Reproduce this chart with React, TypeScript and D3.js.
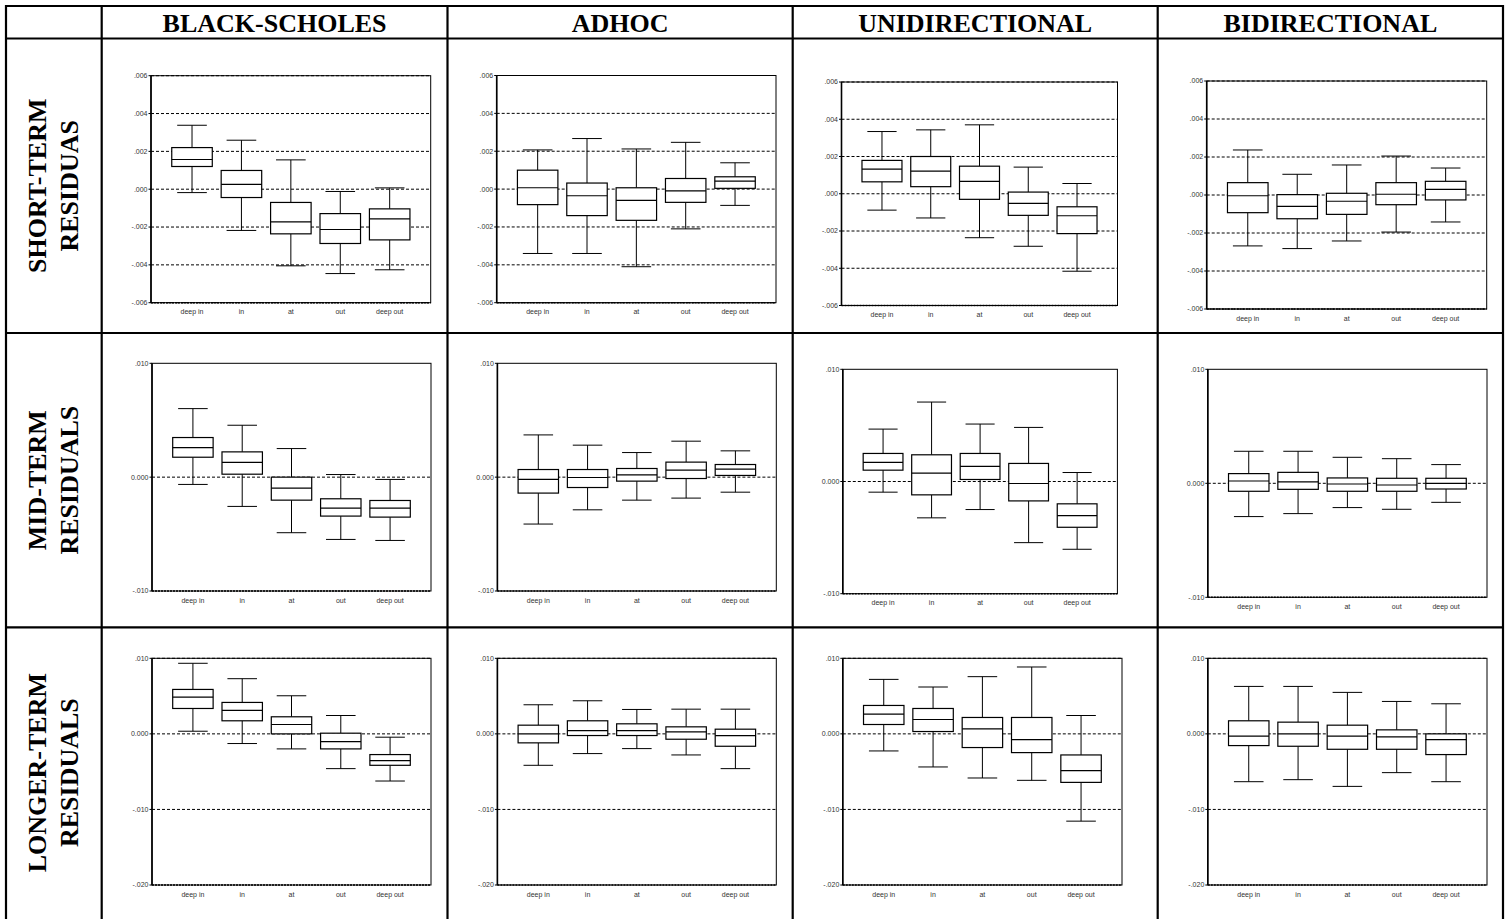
import React from "react";
import * as d3 from "d3";

// ---- labels ----
const MODELS = ["BLACK-SCHOLES", "ADHOC", "UNIDIRECTIONAL", "BIDIRECTIONAL"];
const HORIZONS = [
  ["SHORT-TERM", "RESIDUAS"],
  ["MID-TERM", "RESIDUALS"],
  ["LONGER-TERM", "RESIDUALS"],
];
const CATEGORIES = ["deep in", "in", "at", "out", "deep out"];

// ---- y axes per horizon ----
const SHORT_DOMAIN = [-0.006, 0.006];
const SHORT_TICKS = [0.006, 0.004, 0.002, 0, -0.002, -0.004, -0.006];
const SHORT_TICK_LABELS = [".006", ".004", ".002", ".000", "-.002", "-.004", "-.006"];
const SHORT_GRID = [0.006, 0.004, 0.002, 0, -0.002, -0.004, -0.006];

const MID_DOMAIN = [-0.01, 0.01];
const MID_TICKS = [0.01, 0, -0.01];
const MID_TICK_LABELS = [".010", "0.000", "-.010"];
const MID_GRID = [0];

const LONG_DOMAIN = [-0.02, 0.01];
const LONG_TICKS = [0.01, 0, -0.01, -0.02];
const LONG_TICK_LABELS = [".010", "0.000", "-.010", "-.020"];
const LONG_GRID = [0.01, 0, -0.01];

// ---- box statistics: [lower whisker, Q1, median, Q3, upper whisker] ----
const SHORT_BLACK_SCHOLES = [
  [-0.00018, 0.0012, 0.00157, 0.0022, 0.00338],
  [-0.00218, -0.00044, 0.00026, 0.00099, 0.00259],
  [-0.00405, -0.00236, -0.00173, -0.0007, 0.00155],
  [-0.00446, -0.00287, -0.00213, -0.00129, -0.00012],
  [-0.00426, -0.00268, -0.00157, -0.00104, 0.00007],
];
const SHORT_ADHOC = [
  [-0.0034, -0.00082, 0.00007, 0.001, 0.00207],
  [-0.0034, -0.0014, -0.00035, 0.00032, 0.00267],
  [-0.0041, -0.00165, -0.0006, 0.00007, 0.00212],
  [-0.0021, -0.0007, -0.00009, 0.00056, 0.00247],
  [-0.00086, 0.00004, 0.00042, 0.00065, 0.00139],
];
const SHORT_UNIDIRECTIONAL = [
  [-0.00088, 0.00064, 0.00132, 0.00179, 0.00334],
  [-0.0013, 0.00038, 0.00121, 0.002, 0.00343],
  [-0.00236, -0.0003, 0.00066, 0.00148, 0.0037],
  [-0.00282, -0.00116, -0.00052, 0.00009, 0.00143],
  [-0.00416, -0.00214, -0.00118, -0.0007, 0.00055],
];
const SHORT_BIDIRECTIONAL = [
  [-0.00268, -0.00093, -0.00004, 0.00065, 0.00237],
  [-0.00282, -0.00125, -0.0006, 0.00002, 0.00109],
  [-0.00242, -0.00102, -0.00033, 0.00009, 0.00158],
  [-0.00195, -0.00051, 0.00004, 0.00065, 0.00205],
  [-0.00142, -0.00026, 0.0003, 0.00072, 0.00142],
];

const MID_BLACK_SCHOLES = [
  [-0.00064, 0.00175, 0.0026, 0.00348, 0.00602],
  [-0.00257, 0.00026, 0.00129, 0.00222, 0.00456],
  [-0.00488, -0.00202, -0.00096, 0.0, 0.00251],
  [-0.00547, -0.00342, -0.00272, -0.0019, 0.00023],
  [-0.00556, -0.00351, -0.00272, -0.00205, -0.0002],
];
const MID_ADHOC = [
  [-0.00412, -0.0014, -0.0002, 0.00067, 0.00371],
  [-0.00287, -0.00091, -0.00003, 0.00067, 0.00281],
  [-0.00202, -0.00035, 0.0002, 0.00076, 0.00216],
  [-0.00184, -0.00012, 0.00061, 0.00132, 0.00316],
  [-0.00132, 0.00015, 0.0007, 0.00111, 0.00231],
];
const MID_UNIDIRECTIONAL = [
  [-0.00095, 0.00101, 0.0017, 0.0025, 0.00467],
  [-0.00324, -0.00119, 0.00074, 0.00238, 0.00708],
  [-0.0025, 0.00018, 0.00134, 0.0025, 0.00512],
  [-0.00545, -0.00173, -0.00018, 0.00161, 0.00482],
  [-0.00604, -0.00408, -0.00304, -0.00199, 0.0008],
];
const MID_BIDIRECTIONAL = [
  [-0.00292, -0.0007, 0.0002, 0.00085, 0.00281],
  [-0.00266, -0.00053, 0.00012, 0.00096, 0.00281],
  [-0.00213, -0.0007, -0.00006, 0.00047, 0.00228],
  [-0.00228, -0.0007, -0.00015, 0.00044, 0.00216],
  [-0.00167, -0.0005, 0.0, 0.00044, 0.00164],
];

const LONG_BLACK_SCHOLES = [
  [0.00035, 0.00336, 0.00487, 0.00588, 0.00934],
  [-0.00128, 0.00173, 0.0031, 0.00416, 0.0073],
  [-0.00199, 0.0, 0.00124, 0.00226, 0.00504],
  [-0.0046, -0.00199, -0.00102, 0.00009, 0.00243],
  [-0.00624, -0.00416, -0.00354, -0.00274, -0.00044],
];
const LONG_ADHOC = [
  [-0.00416, -0.00119, 0.0, 0.00115, 0.00385],
  [-0.00261, -0.00022, 0.00044, 0.00173, 0.00438],
  [-0.00195, -0.00022, 0.00044, 0.00133, 0.00323],
  [-0.00279, -0.00071, 0.00027, 0.00093, 0.00327],
  [-0.0046, -0.00164, -0.00022, 0.00062, 0.00327],
];
const LONG_UNIDIRECTIONAL = [
  [-0.00226, 0.00124, 0.00261, 0.00376, 0.00721],
  [-0.00438, 0.00031, 0.0019, 0.00336, 0.0062],
  [-0.00584, -0.00181, 0.00066, 0.00217, 0.00757],
  [-0.00615, -0.00248, -0.00075, 0.00217, 0.00885],
  [-0.01155, -0.00642, -0.00487, -0.00279, 0.00243],
];
const LONG_BIDIRECTIONAL = [
  [-0.00633, -0.00155, -0.00031, 0.00173, 0.00628],
  [-0.00606, -0.00164, 0.0, 0.00155, 0.00628],
  [-0.00695, -0.00204, -0.00031, 0.00115, 0.00549],
  [-0.00513, -0.00204, -0.0004, 0.00053, 0.00429],
  [-0.00633, -0.00274, -0.00075, 0.0, 0.00398],
];

// ---- page layout ----
const W = 1510;
const H = 919;
const TABLE_LEFT = 6;
const TABLE_RIGHT = 1503;
const TABLE_TOP = 6;
const HEADER_BOTTOM = 38.5;
const COL_EDGES = [101.7, 447.5, 792.7, 1157.7];
const ROW_EDGES = [333, 627.3];

// plot frames [x0, y0, x1, y1] for each row / column
const FRAMES = [
  [[151, 75.7, 430.7, 302.7], [496.7, 75.5, 776, 302.7], [841.5, 82, 1117.5, 305.5], [1206.7, 81, 1486.7, 309]],
  [[152, 363.3, 431, 591], [497.4, 363.3, 776.3, 591], [842.8, 369.3, 1117.4, 593.7], [1207.8, 369.3, 1487, 597.3]],
  [[152, 658.3, 431, 885], [497.4, 658.3, 776.3, 885], [842.8, 658.3, 1122, 885], [1207.8, 658.3, 1487, 885]],
];

const ROWS = [
  {
    domain: SHORT_DOMAIN, ticks: SHORT_TICKS, tickLabels: SHORT_TICK_LABELS, grid: SHORT_GRID,
    panels: [SHORT_BLACK_SCHOLES, SHORT_ADHOC, SHORT_UNIDIRECTIONAL, SHORT_BIDIRECTIONAL],
  },
  {
    domain: MID_DOMAIN, ticks: MID_TICKS, tickLabels: MID_TICK_LABELS, grid: MID_GRID,
    panels: [MID_BLACK_SCHOLES, MID_ADHOC, MID_UNIDIRECTIONAL, MID_BIDIRECTIONAL],
  },
  {
    domain: LONG_DOMAIN, ticks: LONG_TICKS, tickLabels: LONG_TICK_LABELS, grid: LONG_GRID,
    panels: [LONG_BLACK_SCHOLES, LONG_ADHOC, LONG_UNIDIRECTIONAL, LONG_BIDIRECTIONAL],
  },
];

const SANS = "'Liberation Sans', Arial, sans-serif";
const SERIF = "'Liberation Serif', 'Times New Roman', serif";

function BoxPanel({ frame, row, stats }) {
  const [x0, y0, x1, y1] = frame;
  const y = d3.scaleLinear().domain(row.domain).range([y1, y0]);
  const x = d3.scalePoint().domain(CATEGORIES).range([x0, x1]).padding(0.83);
  const step = x.step();
  const boxW = step * 0.82;
  const capW = step * 0.6;
  return (
    <g>
      <rect x={x0} y={y0} width={x1 - x0} height={y1 - y0} fill="#fff" stroke="#000" strokeWidth={1} />
      {row.grid.map((v) => (
        <line key={"g" + v} x1={x0} x2={x1} y1={y(v)} y2={y(v)} stroke="#000" strokeWidth={1} strokeDasharray="3,2" />
      ))}
      <line x1={x0} x2={x0} y1={y0} y2={y1} stroke="#000" strokeWidth={1.6} />
      <line x1={x0} x2={x1} y1={y1} y2={y1} stroke="#000" strokeWidth={1.6} strokeDasharray="2,1" />
      {row.ticks.map((v, i) => (
        <g key={"t" + v}>
          <line x1={x0 - 2.5} x2={x0} y1={y(v)} y2={y(v)} stroke="#000" strokeWidth={1} />
          <text x={x0 - 3.5} y={y(v)} dy="0.35em" textAnchor="end" fontFamily={SANS} fontSize={7} fill="#333">
            {row.tickLabels[i]}
          </text>
        </g>
      ))}
      {CATEGORIES.map((c, i) => {
        const [lo, q1, med, q3, hi] = stats[i];
        const cx = x(c);
        return (
          <g key={c}>
            <line x1={cx} x2={cx} y1={y(hi)} y2={y(q3)} stroke="#000" strokeWidth={1} />
            <line x1={cx} x2={cx} y1={y(q1)} y2={y(lo)} stroke="#000" strokeWidth={1} />
            <line x1={cx - capW / 2} x2={cx + capW / 2} y1={y(hi)} y2={y(hi)} stroke="#000" strokeWidth={1} />
            <line x1={cx - capW / 2} x2={cx + capW / 2} y1={y(lo)} y2={y(lo)} stroke="#000" strokeWidth={1} />
            <rect x={cx - boxW / 2} y={y(q3)} width={boxW} height={y(q1) - y(q3)} fill="#fff" stroke="#000" strokeWidth={1.2} />
            <line x1={cx - boxW / 2} x2={cx + boxW / 2} y1={y(med)} y2={y(med)} stroke="#000" strokeWidth={1.2} />
            <text x={cx} y={y1 + 11.5} textAnchor="middle" fontFamily={SANS} fontSize={7} fill="#333">
              {c}
            </text>
          </g>
        );
      })}
    </g>
  );
}

export default function App() {
  const rowTops = [HEADER_BOTTOM, ...ROW_EDGES];
  const rowBottoms = [...ROW_EDGES, H];
  const colLefts = COL_EDGES;
  const colRights = [...COL_EDGES.slice(1), TABLE_RIGHT];
  const lw = 2.2;
  return (
    <svg width={W} height={H} style={{ position: "absolute", left: 0, top: 0, background: "#fff" }}>
      <rect x={0} y={0} width={W} height={H} fill="#fff" />
      {/* column headers */}
      {MODELS.map((m, i) => (
        <text key={m} x={(colLefts[i] + colRights[i]) / 2} y={32.3} textAnchor="middle" fontFamily={SERIF} fontWeight="bold" fontSize={26} fill="#000">
          {m}
        </text>
      ))}
      {/* row headers, rotated */}
      {HORIZONS.map((lines, r) => {
        const cy = (rowTops[r] + (r === 2 ? 918 : rowBottoms[r])) / 2;
        return (
          <g key={r} transform={`translate(0, ${cy}) rotate(-90)`}>
            <text x={0} y={46} textAnchor="middle" fontFamily={SERIF} fontWeight="bold" fontSize={26} fill="#000">{lines[0]}</text>
            <text x={0} y={78} textAnchor="middle" fontFamily={SERIF} fontWeight="bold" fontSize={26} fill="#000">{lines[1]}</text>
          </g>
        );
      })}
      {/* panels */}
      {ROWS.map((row, r) =>
        row.panels.map((stats, c) => <BoxPanel key={r + "-" + c} frame={FRAMES[r][c]} row={row} stats={stats} />)
      )}
      {/* table rules */}
      <line x1={TABLE_LEFT} x2={TABLE_RIGHT} y1={TABLE_TOP} y2={TABLE_TOP} stroke="#000" strokeWidth={lw} />
      <line x1={TABLE_LEFT} x2={TABLE_RIGHT} y1={HEADER_BOTTOM} y2={HEADER_BOTTOM} stroke="#000" strokeWidth={lw} />
      {ROW_EDGES.map((yy) => (
        <line key={yy} x1={TABLE_LEFT} x2={TABLE_RIGHT} y1={yy} y2={yy} stroke="#000" strokeWidth={lw} />
      ))}
      {[TABLE_LEFT, ...COL_EDGES, TABLE_RIGHT].map((xx) => (
        <line key={xx} x1={xx} x2={xx} y1={TABLE_TOP - lw / 2} y2={H} stroke="#000" strokeWidth={lw} />
      ))}
    </svg>
  );
}
